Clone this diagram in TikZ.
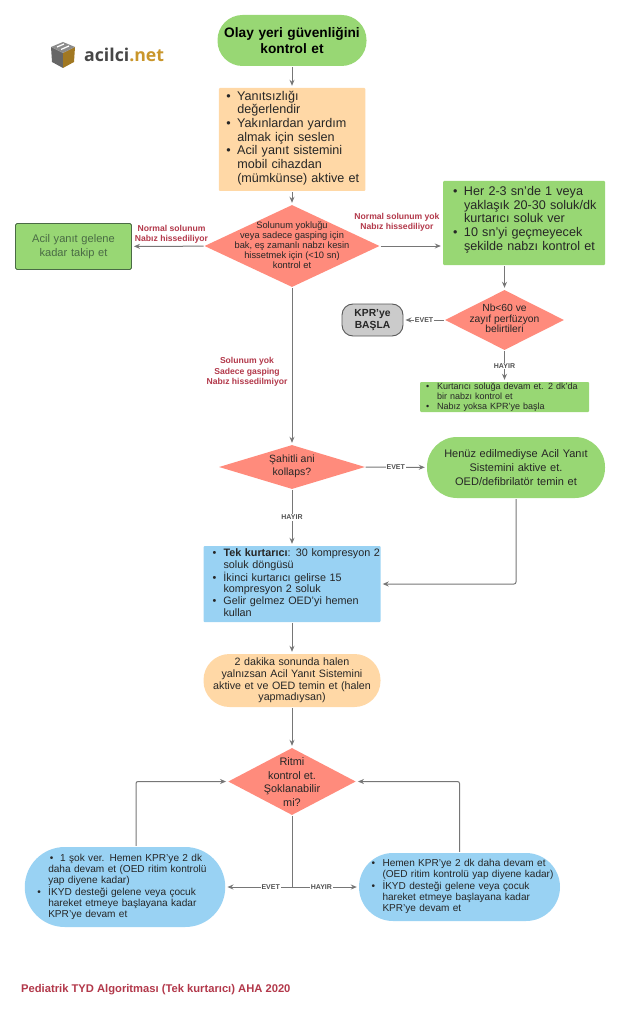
\documentclass[tikz,border=0pt]{standalone}
\usepackage{fontspec}
\setmainfont{Liberation Sans}
\newfontfamily\logofont{Open Sans}
\usetikzlibrary{arrows.meta,shapes.geometric}

\definecolor{yesil}{HTML}{98D774}
\definecolor{koyuyesil}{HTML}{4A6B45}
\definecolor{turuncu}{HTML}{FFD8A6}
\definecolor{somon}{HTML}{FF8B7C}
\definecolor{mavi}{HTML}{99D2F3}
\definecolor{gri}{HTML}{CBCBCB}
\definecolor{cizgi}{HTML}{767676}
\definecolor{kirmizi}{HTML}{B2384A}
\definecolor{altin}{HTML}{C9962B}
\definecolor{yazi}{HTML}{262626}

\newcommand{\mb}{\makebox[11pt][l]{\textbullet}}
\newenvironment{maddeler}[1]{\noindent\hspace*{#1}\begin{tabular}{@{}l@{}l@{}}}{\end{tabular}}
\newcommand{\ortala}[2][-1.5pt]{\smash{\raisebox{#1}{\makebox[0pt]{\begin{tabular}{@{}c@{}}#2\end{tabular}}}}}
\newcommand{\punto}[2]{\fontsize{#1}{#2}\selectfont}

\tikzset{
    kutu/.style={rectangle, rounded corners=1pt, inner sep=0pt, align=left, text=yazi},
    oval/.style={rectangle, inner sep=0pt, align=center, text=yazi},
    karar/.style={diamond, inner sep=0pt, fill=somon, text=yazi},
    ok/.style={draw=cizgi, line width=1pt, -{Stealth[length=6pt,width=5pt]}, shorten >=2pt, shorten <=1pt},
    etiket/.style={fill=white, inner sep=1pt, font=\bfseries\punto{7}{8}, text=yazi!80},
    kirmizinot/.style={align=center, inner sep=0pt, text=kirmizi, font=\bfseries\punto{8.6}{10.3}}
}

\begin{document}
\begin{tikzpicture}[x=1pt,y=-1pt]
    \useasboundingbox (0,0) rectangle (621,1024);

    % logo
    \fill[black!60] (51,47) -- (63,53) -- (63,68) -- (52,62) -- cycle;
    \fill[altin!80!black] (63,53) -- (75,47) -- (74,62) -- (63,68) -- cycle;
    \fill[black!45] (63,42) -- (75,47) -- (63,53) -- (51,47) -- cycle;
    \draw[white, line width=1.2pt] (57,47) -- (64,44) (61,49.5) -- (69,46);
    \node[anchor=west, inner sep=0pt, font=\logofont\bfseries\punto{17.7}{20}] (logo) at (84,55) {\textcolor{yazi!85}{acilci}\textcolor{altin}{.net}};

    \node[oval, fill=yesil, rounded corners=25pt, text width=149pt, minimum height=51pt, font=\bfseries\punto{13.7}{16.7}, text=black] (start) at (292,40.5) {Olay yeri güvenliğini\\kontrol et};
    \node[kutu, fill=turuncu, text width=146.5pt, minimum height=103pt, font=\punto{12.6}{13.7}] (degerlendir) at (292,139.5) {\begin{maddeler}{7.5pt}
        \mb & Yanıtsızlığı\\ & değerlendir\\
        \mb & Yakınlardan yardım\\ & almak için seslen\\
        \mb & Acil yanıt sistemini\\ & mobil cihazdan\\ & (mümkünse) aktive et\\[2pt]
        \end{maddeler}};
    \node[karar, minimum width=175pt, minimum height=82pt, font=\punto{9.3}{10}] (solunum) at (292,246) {\ortala[-2.5pt]{Solunum yokluğu\\veya sadece gasping için\\bak, eş zamanlı nabzı kesin\\hissetmek için (<10 sn)\\kontrol et}};
    \node[oval, rounded corners=1.5pt, fill=yesil, draw=koyuyesil, line width=.9pt, text width=116pt, minimum height=46pt, font=\punto{11.1}{13.7}, text=koyuyesil] (takip) at (73.5,246.5) {Acil yanıt gelene\\kadar takip et};
    \node[kutu, fill=yesil, text width=162pt, minimum height=84pt, font=\punto{12.6}{13.7}] (soluk) at (524,223) {\begin{maddeler}{10pt}
        \mb & Her 2-3 sn'de 1 veya\\ & yaklaşık 20-30 soluk/dk\\ & kurtarıcı soluk ver\\
        \mb & 10 sn'yi geçmeyecek\\ & şekilde nabzı kontrol et\\[6pt]
        \end{maddeler}};
    \node[karar, minimum width=119pt, minimum height=60pt, font=\punto{10.3}{10.7}] (nabiz) at (504.5,320) {\ortala[-2.5pt]{Nb<60 ve\\zayıf perfüzyon\\belirtileri}};
    \node[rectangle, rounded corners=11pt, fill=gri, draw=black!65, line width=.9pt, align=center, inner sep=0pt, minimum width=61pt, minimum height=32pt, font=\bfseries\punto{10.3}{12.5}, text=yazi] (kpr) at (372.5,320) {KPR'ye\\BAŞLA};
    \node[kutu, fill=yesil, text width=169pt, minimum height=30pt, font=\punto{9}{10}] (devam) at (504.5,397) {\begin{maddeler}{6pt}
        \mb & Kurtarıcı soluğa devam et. 2 dk'da\\ & bir nabzı kontrol et\\
        \mb & Nabız yoksa KPR'ye başla\\
        \end{maddeler}};
    \node[karar, minimum width=146pt, minimum height=44pt, font=\punto{10.5}{13}] (kollaps) at (292,467) {\ortala[-2.5pt]{Şahitli ani\\kollaps?}};
    \node[oval, fill=yesil, rounded corners=30pt, text width=178pt, minimum height=61pt, font=\punto{11}{13.6}] (oed) at (516,467.5) {Henüz edilmediyse Acil Yanıt\\Sistemini aktive et.\\OED/defibrilatör temin et\\[5pt]};
    \node[kutu, fill=mavi, text width=177pt, minimum height=76pt, font=\punto{10.8}{11.8}] (tek) at (292,584) {\begin{maddeler}{9pt}
        \mb & \textbf{Tek kurtarıcı}: 30 kompresyon 2\\ & soluk döngüsü\\
        \mb & İkinci kurtarıcı gelirse 15\\ & kompresyon 2 soluk\\
        \mb & Gelir gelmez OED'yi hemen\\ & kullan\\
        \end{maddeler}};
    \node[oval, fill=turuncu, rounded corners=26pt, text width=177pt, minimum height=53pt, font=\punto{10.7}{11.8}] (yalniz) at (292,680.5) {2 dakika sonunda halen\\yalnızsan Acil Yanıt Sistemini\\aktive et ve OED temin et (halen\\yapmadıysan)};
    \node[karar, minimum width=127.5pt, minimum height=67pt, font=\punto{10.9}{13.6}] (ritim) at (292,781.5) {\ortala[-4.5pt]{Ritmi\\kontrol et.\\Şoklanabilir\\mi?}};
    \node[kutu, fill=mavi, rounded corners=40pt, text width=200.5pt, minimum height=80pt, font=\punto{10.1}{11}] (sok) at (125,887) {\begin{maddeler}{12.5pt}
        & \hspace*{1.5pt}\textbullet\hspace{3.5pt} 1 şok ver. Hemen KPR'ye 2 dk\\ & daha devam et (OED ritim kontrolü\\ & yap diyene kadar)\\
        \mb & İKYD desteği gelene veya çocuk\\ & hareket etmeye başlayana kadar\\ & KPR'ye devam et\\
        \end{maddeler}};
    \node[kutu, fill=mavi, rounded corners=34pt, text width=201pt, minimum height=68pt, font=\punto{10.05}{11}] (hemen) at (459.5,887) {\begin{maddeler}{12.5pt}
        \mb & Hemen KPR'ye 2 dk daha devam et\\ & (OED ritim kontrolü yap diyene kadar)\\
        \mb & İKYD desteği gelene veya çocuk\\ & hareket etmeye başlayana kadar\\ & KPR'ye devam et\\
        \end{maddeler}};
    \node[anchor=west, inner sep=0pt, text=kirmizi, font=\bfseries\punto{11.2}{12}] (baslik) at (21,990) {Pediatrik TYD Algoritması (Tek kurtarıcı) AHA 2020};

    % notlar
    \node[kirmizinot] (nothissedilen) at (171.5,234) {Normal solunum\\Nabız hissediliyor};
    \node[kirmizinot] (notyok) at (397,222) {Normal solunum yok\\Nabız hissediliyor};
    \node[kirmizinot] (notgasping) at (247,372) {Solunum yok\\Sadece gasping\\Nabız hissedilmiyor};

    % oklar
    \draw[ok] (start) -- (degerlendir);
    \draw[ok] (degerlendir) -- (solunum);
    \draw[ok] (solunum) -- (takip);
    \draw[ok] (solunum) -- (soluk.west |- solunum);
    \draw[ok] (nabiz.north |- soluk.south) -- (nabiz);
    \draw[ok] (nabiz) -- node[etiket] {EVET} (kpr);
    \draw[ok] (nabiz) -- node[etiket] {HAYIR} (devam);
    \draw[ok] (solunum) -- (kollaps);
    \draw[ok] (kollaps) -- node[etiket] {EVET} (oed);
    \draw[ok] (kollaps) -- node[etiket] {HAYIR} (tek);
    \draw[ok, rounded corners=2pt] (oed) |- (tek);
    \draw[ok] (tek) -- (yalniz);
    \draw[ok] (yalniz) -- (ritim);
    \draw[ok] (ritim) |- node[etiket, pos=.66] {EVET} (sok);
    \draw[ok] (ritim) |- node[etiket, pos=.72] {HAYIR} (hemen);
    \draw[ok, rounded corners=2pt] ([xshift=11pt]sok.north) |- (ritim);
    \draw[ok, rounded corners=2pt] (hemen) |- (ritim);
\end{tikzpicture}
\end{document}
